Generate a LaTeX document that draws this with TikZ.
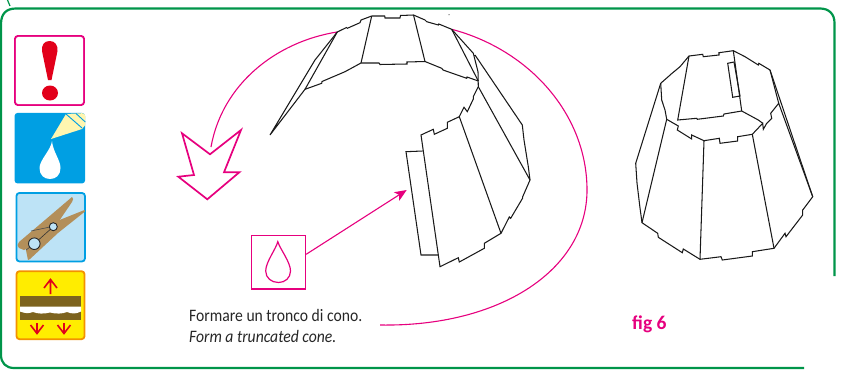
\documentclass[tikz,border=0pt]{standalone}
\usepackage{fontspec}
\setmainfont{Carlito}[FakeStretch=0.895]
\newfontfamily\figfont{Carlito}
\usetikzlibrary{arrows.meta}
\definecolor{framegreen}{HTML}{00954A}
\definecolor{pinkx}{HTML}{E6007E}
\definecolor{redx}{HTML}{E2001A}
\definecolor{cyanx}{HTML}{009FE3}
\definecolor{paleb}{HTML}{BDE3F6}
\definecolor{palel}{HTML}{FFF6B0}
\definecolor{woodx}{HTML}{B38F5A}
\definecolor{yel}{HTML}{FFED00}
\definecolor{orangex}{HTML}{F39200}
\definecolor{brownx}{HTML}{7D631E}
\tikzset{
  frame/.style={draw=framegreen,line width=2.2pt},
  ink/.style={draw=black!90,line width=1.05pt,line join=miter},
  magline/.style={draw=pinkx,line width=1.1pt},
  redarrow/.style={draw=redx,line width=1.6pt},
  caption/.style={anchor=base west,inner sep=0pt,font=\fontsize{17.5}{18}\selectfont,text=black!85},
}
\begin{document}
\begin{tikzpicture}[x=1pt,y=-1pt]
\useasboundingbox (0,0) rectangle (842,372);
% frame
\draw[frame] (804,368) -- (14,368) .. controls (6,368) and (1,363) .. (1,355) -- (1,24)
  .. controls (1,14) and (6,8.5) .. (16,8.5) -- (820,8.5)
  .. controls (829,8.5) and (834.5,14) .. (834.5,23) -- (834.5,276);
\draw[frame,line width=1.2pt] (7.5,0) -- (10,6);
% icon 1
\node[fill=pinkx,rounded corners=3.5pt,minimum size=70.8pt,inner sep=0pt] (warn) at (49.5,70.5) {};
\node[fill=white,rounded corners=2.5pt,minimum size=67.2pt,inner sep=0pt] (warninner) at (49.5,70.5) {};
\fill[redx] (49.5,41) .. controls (55,41) and (58,45) .. (57.5,51) -- (51.5,80) -- (48,80) -- (42,51) .. controls (41.5,45) and (44,41) .. (49.5,41) -- cycle;
\fill[redx] (50,93) ellipse (8 and 7.5);
% icon 2
\node[fill=cyanx,rounded corners=3pt,minimum size=70.5pt,inner sep=0pt] (glue) at (49.8,148.2) {};
\fill[palel] (51,139) -- (66,114) -- (82,113.2) .. controls (84,113.2) and (85.3,114.5) .. (85.3,116) -- (85.3,125) -- (82,129) -- cycle;
\draw[cyanx,line width=0.9pt] (66,114) -- (82,128) (76,113.5) -- (85.3,122);
\fill[white] (52,141) .. controls (51,150) and (39.5,160) .. (39.5,168) .. controls (39.5,175) and (44,179) .. (50,179) .. controls (56,179) and (60.5,175) .. (60.5,168) .. controls (60.5,160) and (53,152) .. (52,141) -- cycle;
% icon 3
\node[draw=cyanx,fill=paleb,line width=1.8pt,rounded corners=3pt,minimum width=68.5pt,minimum height=68.5pt,inner sep=0pt] (peg) at (50.7,227.2) {};
\fill[woodx] (72,197) .. controls (74,198) and (73,200) .. (72,202) -- (57,224) -- (40,243) -- (24,250) -- (19,248) -- (17.5,245) -- (19,242) -- (45,220) -- cycle;
\fill[woodx] (84.5,210) -- (85,211.5) -- (58,233) -- (30,259) -- (28,260) -- (26,250) -- (40,235) -- (57,221) -- cycle;
\draw[black!70,line width=0.6pt] (31,231) -- (50,227) (34,244) -- (26,250);
\draw[black!80,line width=0.6pt] (34.3,243.7) -- (53.3,226.7);
\draw[black!85,fill=paleb,line width=0.9pt] (34.3,243.7) circle (5.8);
\draw[black!85,fill=paleb,line width=0.9pt] (53.3,226.7) circle (4);
% icon 4
\node[draw=orangex,fill=yel,line width=1.8pt,rounded corners=3pt,minimum width=68pt,minimum height=68pt,inner sep=0pt] (press) at (50.5,305.2) {};
\fill[brownx] (20,296) rectangle (81,320);
\fill[white] (20,306.5) -- (81,306.5) -- (81,311.5) .. controls (76,314) and (72,314) .. (67,312) .. controls (62,314) and (56,314) .. (50,312.5) .. controls (44,314) and (38,314) .. (33,312) .. controls (28,314) and (24,313) .. (20,311.5) -- cycle;
\draw[redarrow] (50.5,294) -- (50.5,280) (44,288) -- (50.5,279.5) -- (57,288);
\draw[redarrow] (37,323) -- (37,333) (30.5,325) -- (37,333.5) -- (43.5,325);
\draw[redarrow] (64,323) -- (64,333) (57.5,325) -- (64,333.5) -- (70.5,325);
% magenta arcs
\draw[magline] (337,32) .. controls (275,42) and (222,85) .. (211,147);
\draw[magline] (451.7,29.3) .. controls (530,50) and (587,115) .. (587,190) .. controls (587,270) and (500,327) .. (380,325);
\draw[pinkx,line width=1.7pt,line join=miter] (182,133.3) -- (210,154.3) -- (241,130) -- (224,172.3) -- (239.3,172.3) -- (207.3,199.3) -- (178.3,176.7) -- (194,175) -- cycle;
% drop box and its arrow
\node[fill=pinkx,minimum size=54.9pt,inner sep=0pt] (dropbox) at (278.5,262.3) {};
\node[fill=white,minimum size=52.3pt,inner sep=0pt] (dropinner) at (278.5,262.3) {};
\draw[pinkx,line width=1.2pt] (277.8,241.7) .. controls (280,249) and (290.5,262) .. (290.5,271) .. controls (290.5,278) and (285,282.5) .. (278.5,282.5) .. controls (271.5,282.5) and (265.7,278) .. (265.7,271) .. controls (265.7,262) and (276,249) .. (277.8,241.7) -- cycle;
\coordinate (flaptip) at (406.7,190);
\draw[magline,-{Stealth[length=12pt,width=10pt,inset=3pt]}] (dropbox.east |- 0,254.3) -- (flaptip);
% truncated cone, open
\draw[ink] (371.7,16) -- (384.7,16) -- (385,18) -- (400,18) -- (400.5,15.5) -- (413.5,15) -- (425,20) -- (426.7,21.7) -- (438.3,25) -- (438.8,24) -- (451.7,29.3) -- (473.3,53.3) -- (478,71.7) -- (478.3,86.7) -- (473.3,96.7) -- (473.3,99) -- (467.3,111.7) -- (464,107.3) -- (459.3,116.7) -- (447.3,122.3) -- (447.3,128.3) -- (434.3,134.3) -- (433.3,129.3) -- (421,135) -- (440,266.7) -- (458.3,257.7) -- (459.3,262) -- (484.3,248.3) -- (484.3,243.3) -- (501,233.3) -- (509.3,217) -- (510.7,218.3) -- (522.7,198) -- (522.7,196.7) -- (530,180) -- (528.3,166.7) -- (524,140) -- (522.3,125) -- (475,55);
\draw[ink] (371.7,16) -- (361,20) -- (360,22.7) -- (347.3,28.3) -- (346.5,27.5) -- (337.3,32) -- (315,60) -- (270,135) -- (305,89.3) -- (321.7,83.3) -- (322,81.5) -- (345,71.7) -- (361,63) -- (379,63) -- (380,64.5) -- (407,64) -- (407,62) -- (425,61.5) -- (441.7,68.3) -- (443,70) -- (466.7,78.3) -- (467,77) -- (478.3,81);
\draw[ink] (371.7,16) -- (361,63);
\draw[ink] (413.5,15) -- (425,61.5);
\draw[ink] (337.3,32) -- (305,89.3);
\draw[ink] (451.7,29.3) -- (478.3,81);
\draw[ink] (478.3,86.7) -- (530,180);
\draw[ink] (459.3,116.7) -- (501,233.3);
\draw[ink] (422.7,151) -- (406,151.7) -- (421,255) -- (438.3,255);
% truncated cone, closed
\draw[ink] (689,56) -- (702.7,54.3) -- (703.3,56.7) -- (719,55) -- (719,52.7) -- (733.3,50.7) -- (745,56.7) -- (758.3,65) -- (758.8,63.3) -- (770,70) -- (812.7,196.7) -- (802.7,210) -- (802.7,215) -- (786,236.7) -- (785,233.3) -- (774,248.3) -- (752.3,251.7) -- (752.3,256) -- (722.3,260) -- (721,256.7) -- (700,259.3) -- (683.3,249) -- (682.3,252.7) -- (658.3,237.3) -- (657.7,233.3) -- (642,222.7) -- (640,208) -- (637,183) -- (635.7,163.3) -- (660.7,83.3) -- (669,76) -- (670,75) -- (680,66.7) -- cycle;
\draw[ink] (660.7,83.3) -- (661.7,100) -- (665,110) -- (666.7,119.3) -- (678.3,126) -- (677.3,130) -- (691.7,139) -- (691.7,135) -- (704,140.7) -- (719.3,138.3) -- (720,143.3) -- (737.7,141) -- (737.7,136.7) -- (752.3,134.3) -- (762.7,123.3) -- (763.3,129.3) -- (766.7,123.3) -- (771.7,118.3) -- (770.7,113.3) -- (778.7,103.3) -- (812.7,196.7);
\draw[ink] (689,56) -- (677.7,120) -- (696.7,118.3) -- (697.3,119.3) -- (723.3,116) -- (724,114) -- (741.7,111) -- (758.3,120) -- (762.7,123.3);
\draw[ink] (733.3,50.7) -- (741.7,111);
\draw[ink] (770,70) -- (778.7,103.3);
\draw[ink] (727.7,63.3) -- (734,62) -- (740,96) -- (732.7,97.3) -- cycle;
\draw[ink] (704,140.7) -- (700,259.3);
\draw[ink] (752.3,134.3) -- (774,248.3);
\draw[ink] (666.7,119.3) -- (642,222.7);
\fill[black!60] (449,14.7) circle (0.7);
% texts
\node[caption] (it) at (189,321) {Formare un tronco di cono.};
\node[caption,font=\fontsize{17.5}{18}\selectfont\itshape] (en) at (189,342.5) {Form a truncated cone.};
\node[anchor=base west,inner sep=0pt,text=pinkx,font=\figfont\fontsize{19.5}{20}\selectfont\bfseries] (fig) at (632,329) {fig 6};
\end{tikzpicture}
\end{document}
